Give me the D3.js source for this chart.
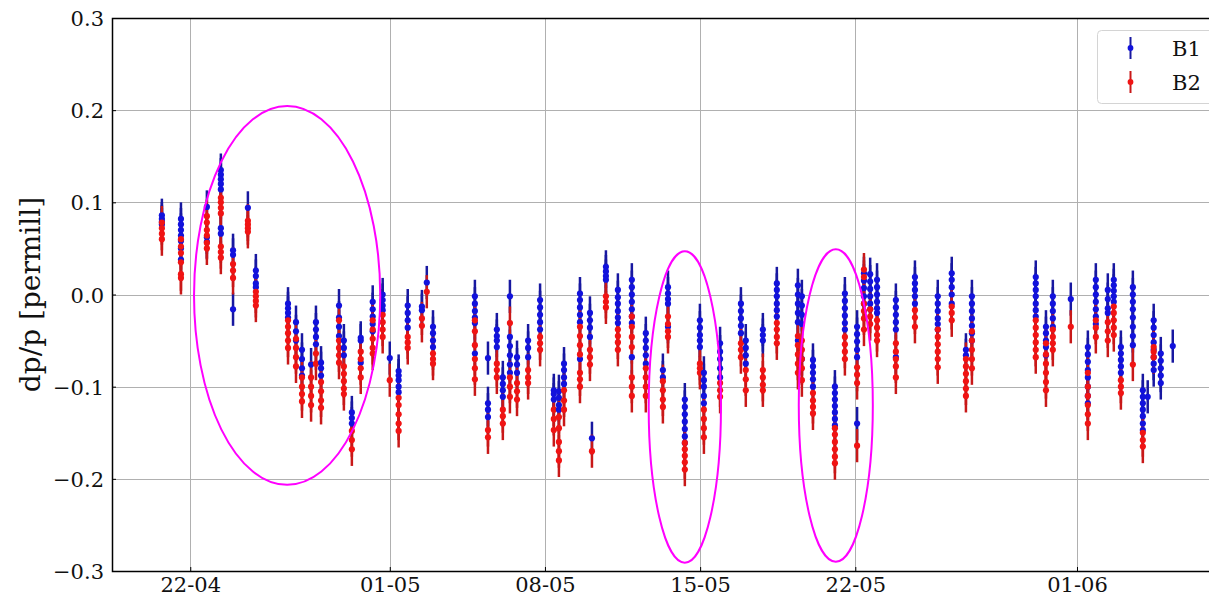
<!DOCTYPE html>
<html>
<head>
<meta charset="utf-8">
<script src="https://cdn.jsdelivr.net/npm/d3@7"></script>
<style>
  body { margin: 0; background: #fff; }
  svg text { font-family: "DejaVu Serif", serif; fill: #111; }
</style>
</head>
<body>
<div id="chart"></div>
<script>
const width = 1209;
const height = 596;

// fills: days after 22-04 (2018)
const fillDays = [
  -1.28, -0.42, 0.75, 1.38, 1.93, 2.60, 2.96, 4.41, 4.77, 5.04,
  5.45, 5.67, 5.90, 6.71, 6.93, 7.29, 7.69, 8.23, 8.68, 9.00,
  9.40, 9.81, 10.45, 10.67, 10.95, 12.84, 13.43, 13.83, 14.10, 14.42,
  14.74, 15.24, 15.78, 16.40, 16.63, 16.86, 17.58, 18.03, 18.12, 18.75,
  19.29, 19.92, 20.55, 21.32, 21.55, 22.31, 22.99, 23.17, 23.90, 24.84,
  25.06, 25.83, 26.46, 27.41, 27.59, 28.09, 29.08, 29.53, 30.08, 30.39,
  30.67, 30.98, 31.83, 32.69, 33.72, 34.35, 34.99, 35.26, 38.14, 38.60,
  38.91, 39.72, 40.49, 40.85, 41.39, 41.66, 41.98, 42.52, 42.97, 43.19,
  43.46, 43.78, 44.32
];

// B1 dp/p [permill] per fill
const b1Values = [
  [0.086, 0.082, 0.079, 0.076],
  [0.082, 0.076, 0.07, 0.064, 0.058, 0.05, 0.038],
  [0.095, 0.062, 0.057],
  [0.135, 0.13, 0.125, 0.12, 0.114, 0.072, 0.066],
  [0.048, 0.043, -0.016],
  [0.094],
  [0.026, 0.02, 0.012, 0.008],
  [-0.01, -0.015, -0.02, -0.025],
  [-0.03, -0.04, -0.05],
  [-0.06, -0.07, -0.08, -0.088],
  [-0.076],
  [-0.03, -0.038, -0.046, -0.054],
  [-0.074, -0.08, -0.088],
  [-0.012, -0.025, -0.035, -0.045],
  [-0.05, -0.058, -0.066],
  [-0.128, -0.134, -0.14],
  [-0.047, -0.05, -0.074],
  [-0.008, -0.016, -0.024, -0.032, -0.04],
  [0.0, -0.006, -0.012, -0.017],
  [-0.069],
  [-0.083, -0.088, -0.093, -0.1, -0.106],
  [-0.012, -0.02, -0.028, -0.036],
  [-0.013, -0.017],
  [0.013],
  [-0.035, -0.042, -0.05, -0.057],
  [-0.002, -0.01, -0.018, -0.025, -0.031, -0.064],
  [-0.069, -0.118, -0.125, -0.133],
  [-0.038, -0.045, -0.05, -0.057],
  [-0.09, -0.097, -0.104, -0.111],
  [-0.002, -0.046, -0.056, -0.066, -0.076, -0.085],
  [-0.068, -0.076, -0.085],
  [-0.05, -0.058, -0.068],
  [-0.006, -0.014, -0.022, -0.03, -0.038],
  [-0.104, -0.108, -0.114],
  [-0.105, -0.112, -0.12, -0.125],
  [-0.075, -0.082, -0.09, -0.097],
  [0.001, -0.006, -0.014, -0.022, -0.03, -0.07],
  [-0.02, -0.028, -0.036, -0.046],
  [-0.156],
  [0.03, 0.025, 0.02, 0.016],
  [0.005, -0.003, -0.01, -0.018, -0.025, -0.031],
  [0.016, 0.008, 0.0, -0.008, -0.016, -0.024, -0.031, -0.068],
  [-0.042, -0.05, -0.058, -0.066, -0.075],
  [-0.082, -0.09],
  [0.008, 0.001, -0.005, -0.01, -0.035],
  [-0.114, -0.122, -0.13, -0.138, -0.146, -0.154, -0.161],
  [-0.028, -0.036, -0.044, -0.05, -0.057],
  [-0.085, -0.093, -0.1, -0.11, -0.118],
  [-0.053, -0.062, -0.07, -0.08, -0.09],
  [-0.01, -0.018, -0.026, -0.034, -0.042],
  [-0.05, -0.058, -0.066, -0.075],
  [-0.038, -0.044, -0.05],
  [0.012, 0.005, -0.002, -0.01, -0.017, -0.024],
  [0.01, 0.0, -0.01, -0.02, -0.03, -0.05],
  [-0.002, -0.012, -0.022, -0.032, -0.07],
  [-0.071, -0.078, -0.085, -0.092, -0.1],
  [-0.1, -0.107, -0.114, -0.121, -0.128, -0.135, -0.142],
  [0.001, -0.007, -0.015, -0.023, -0.031, -0.038],
  [-0.035, -0.043, -0.051, -0.06, -0.068, -0.14],
  [0.023, 0.015, 0.007, -0.002, -0.01],
  [0.022, 0.014, 0.006, -0.002, -0.01, -0.016],
  [0.016, 0.008, 0.0, -0.008, -0.015, -0.02],
  [-0.006, -0.014, -0.022, -0.03, -0.038, -0.068],
  [0.019, 0.012, 0.005, -0.002, -0.01],
  [-0.002, -0.01, -0.018, -0.026, -0.032, -0.038],
  [0.023, 0.016, 0.008, 0.0, -0.01],
  [-0.06, -0.066],
  [-0.002, -0.01, -0.018, -0.026, -0.034, -0.042, -0.05],
  [0.019, 0.012, 0.005, -0.002, -0.01, -0.017, -0.024],
  [-0.035, -0.042, -0.05, -0.057, -0.066],
  [-0.002, -0.01, -0.018, -0.026, -0.035],
  [-0.005],
  [-0.057, -0.065, -0.073, -0.082, -0.09, -0.1, -0.11, -0.118],
  [0.016, 0.008, 0.0, -0.008, -0.016, -0.024, -0.032],
  [0.005, -0.005, -0.015, -0.02],
  [0.016, 0.01, 0.004, -0.002, -0.008],
  [-0.057, -0.064, -0.071, -0.078, -0.085],
  [0.008, 0.0, -0.008, -0.016, -0.025, -0.035, -0.045, -0.055],
  [-0.104, -0.111, -0.118, -0.125, -0.132, -0.14, -0.147],
  [-0.111],
  [-0.028, -0.036, -0.044, -0.052, -0.06, -0.068, -0.075, -0.082],
  [-0.064, -0.072, -0.08, -0.088, -0.096],
  [-0.056]
];

// B2 dp/p [permill] per fill
const b2Values = [
  [0.078, 0.072, 0.066, 0.06],
  [0.06, 0.052, 0.045, 0.035, 0.022, 0.018],
  [0.085, 0.078, 0.07, 0.064, 0.056, 0.05],
  [0.105, 0.1, 0.094, 0.088, 0.052, 0.046, 0.04],
  [0.033, 0.026, 0.018],
  [0.08, 0.076, 0.072, 0.068],
  [0.003, -0.002, -0.007, -0.012],
  [-0.028, -0.035, -0.042, -0.05, -0.058],
  [-0.048, -0.058, -0.068, -0.078],
  [-0.09, -0.1, -0.108, -0.116],
  [-0.09, -0.1, -0.11, -0.12],
  [-0.064, -0.075],
  [-0.095, -0.105, -0.115, -0.123],
  [-0.028, -0.05, -0.058, -0.066, -0.074],
  [-0.078, -0.086, -0.094, -0.102, -0.108],
  [-0.148, -0.158, -0.168],
  [-0.062, -0.07, -0.08, -0.09],
  [-0.028, -0.038, -0.048, -0.058, -0.064],
  [-0.022, -0.03, -0.038, -0.046],
  [-0.093],
  [-0.112, -0.12, -0.13, -0.14, -0.148],
  [-0.046, -0.052, -0.058],
  [-0.026, -0.034],
  [0.003],
  [-0.064, -0.07, -0.075],
  [-0.028, -0.04, -0.055, -0.07, -0.08, -0.092],
  [-0.147, -0.155],
  [-0.075, -0.082, -0.09],
  [-0.125, -0.132, -0.14],
  [-0.031, -0.09, -0.1, -0.111],
  [-0.096, -0.105, -0.114],
  [-0.082, -0.09, -0.096],
  [-0.046, -0.053, -0.06],
  [-0.125, -0.135, -0.147],
  [-0.133, -0.145, -0.16, -0.17, -0.18],
  [-0.104, -0.115, -0.125],
  [-0.035, -0.045, -0.055, -0.065, -0.085, -0.092, -0.1],
  [-0.06, -0.068, -0.076],
  [-0.17],
  [-0.002, -0.008, -0.014],
  [-0.038, -0.045, -0.052, -0.06],
  [-0.024, -0.035, -0.046, -0.057, -0.09, -0.1, -0.11],
  [-0.08, -0.09, -0.1, -0.11],
  [-0.094, -0.104, -0.114, -0.122],
  [-0.024, -0.032, -0.04, -0.046],
  [-0.161, -0.168, -0.175, -0.182, -0.19],
  [-0.075, -0.08, -0.085],
  [-0.125, -0.135, -0.145, -0.155],
  [-0.096, -0.104, -0.111],
  [-0.053, -0.06, -0.068],
  [-0.082, -0.092, -0.104],
  [-0.082, -0.09, -0.098, -0.104],
  [-0.031, -0.038, -0.046, -0.053],
  [-0.045, -0.055, -0.065, -0.075, -0.085],
  [-0.05, -0.06, -0.07, -0.08, -0.093],
  [-0.107, -0.115, -0.122, -0.129],
  [-0.145, -0.152, -0.16, -0.168, -0.176, -0.183],
  [-0.046, -0.054, -0.062, -0.07],
  [-0.079, -0.087, -0.096, -0.164],
  [0.027, 0.019, -0.01, -0.018, -0.026, -0.038],
  [-0.016, -0.024, -0.032],
  [-0.028, -0.036, -0.044, -0.05],
  [-0.053, -0.062, -0.07, -0.078, -0.09],
  [-0.017, -0.025, -0.035],
  [-0.038, -0.046, -0.054, -0.062, -0.07, -0.079],
  [-0.013, -0.02, -0.028],
  [-0.07, -0.078, -0.086, -0.094, -0.102, -0.11],
  [-0.04, -0.05, -0.06, -0.07, -0.08],
  [-0.028, -0.036, -0.044, -0.052, -0.06, -0.068],
  [-0.053, -0.065, -0.075, -0.085, -0.095, -0.104],
  [-0.038, -0.046, -0.053, -0.06],
  [-0.035],
  [-0.085, -0.1, -0.11, -0.12, -0.13, -0.14],
  [-0.028, -0.036, -0.046],
  [-0.03, -0.04, -0.05],
  [-0.013, -0.02, -0.028, -0.036, -0.044],
  [-0.093, -0.1, -0.107],
  [-0.076],
  [-0.15, -0.158, -0.165],
  [],
  [-0.057, -0.062, -0.068],
  [],
  []
];

const errB1 = 0.018;
const errB2 = 0.018;

const seriesNames = ["B1", "B2"];
const xTickLabels = ["22-04", "01-05", "08-05", "15-05", "22-05", "01-06"];
const yTicks = [-0.3, -0.2, -0.1, 0.0, 0.1, 0.2, 0.3];

// highlighted periods: centre day, centre value, half-width (days), half-height
const ellipseCentreDays = [4.37, 22.31, 29.12];
const ellipseCentreValues = [-0.001, -0.122, -0.1205];
const ellipseHalfDays = [4.2, 1.63, 1.67];
const ellipseHalfValues = [0.2055, 0.169, 0.1695];

const t0 = Date.UTC(2018, 3, 22);
const dayMs = 864e5;
const toDate = d => new Date(t0 + d * dayMs);
const parseTick = d3.utcParse("%d-%m-%Y");

const plot = { left: 112, top: 18, right: 1212, bottom: 571 };

const svg = d3.select("#chart")
  .append("svg")
  .attr("width", width)
  .attr("height", height);

const x = d3.scaleUtc()
  .domain([toDate(-3.53), toDate(46.09)])
  .range([plot.left, plot.right]);

const y = d3.scaleLinear()
  .domain([-0.3, 0.3])
  .range([plot.bottom, plot.top]);

const xTicks = xTickLabels.map(s => parseTick(s + "-2018"));

// 网格
const grid = svg.append("g").attr("stroke", "#b0b0b0").attr("stroke-width", 1);
grid.selectAll("line.gx").data(xTicks).enter().append("line")
  .attr("x1", d => Math.round(x(d)) + 0.5).attr("x2", d => Math.round(x(d)) + 0.5)
  .attr("y1", plot.top).attr("y2", plot.bottom);
grid.selectAll("line.gy").data(yTicks).enter().append("line")
  .attr("y1", d => Math.round(y(d)) + 0.5).attr("y2", d => Math.round(y(d)) + 0.5)
  .attr("x1", plot.left).attr("x2", plot.right);

svg.append("clipPath").attr("id", "clip")
  .append("rect")
  .attr("x", plot.left).attr("y", plot.top)
  .attr("width", plot.right - plot.left).attr("height", plot.bottom - plot.top);

const barLayer = svg.append("g").attr("clip-path", "url(#clip)");
const dotLayer = svg.append("g").attr("clip-path", "url(#clip)");

const colors = {
  B1: { bar: "#1818a0", dot: "#1212dc" },
  B2: { bar: "#c81818", dot: "#f01414" }
};

function drawSeries(xv, values, err, c) {
  values.forEach(v => {
    barLayer.append("line")
      .attr("x1", xv).attr("x2", xv)
      .attr("y1", y(v - err)).attr("y2", y(v + err))
      .attr("stroke", c.bar).attr("stroke-width", 2.5);
    dotLayer.append("circle")
      .attr("cx", xv).attr("cy", y(v)).attr("r", 3.1)
      .attr("fill", c.dot);
  });
}

fillDays.forEach((d, i) => {
  const xv = x(toDate(d));
  drawSeries(xv, b1Values[i], errB1, colors.B1);
  drawSeries(xv, b2Values[i], errB2, colors.B2);
});

// 椭圆标注
ellipseCentreDays.forEach((d, i) => {
  const cx = x(toDate(d));
  const cy = y(ellipseCentreValues[i]);
  svg.append("ellipse")
    .attr("cx", cx).attr("cy", cy)
    .attr("rx", x(toDate(d + ellipseHalfDays[i])) - cx)
    .attr("ry", cy - y(ellipseCentreValues[i] + ellipseHalfValues[i]))
    .attr("fill", "none")
    .attr("stroke", "#ff00ff")
    .attr("stroke-width", 2);
});

// 坐标轴
const fmtY = d => d3.format(".1f")(d).replace("-", "\u2212");

const yAxis = svg.append("g")
  .attr("transform", `translate(${plot.left},0)`)
  .call(d3.axisLeft(y).tickValues(yTicks).tickFormat(fmtY).tickSizeInner(-4).tickSizeOuter(0).tickPadding(8));
yAxis.select(".domain").remove();
yAxis.selectAll("text").style("font-size", "21px").attr("dy", "0.36em");
yAxis.selectAll("line").attr("stroke", "#000");

const xAxis = svg.append("g")
  .attr("transform", `translate(0,${plot.bottom})`)
  .call(d3.axisBottom(x).tickValues(xTicks).tickFormat(d3.utcFormat("%d-%m")).tickSizeInner(-4).tickSizeOuter(0).tickPadding(6));
xAxis.select(".domain").remove();
xAxis.selectAll("text").style("font-size", "21px").attr("dy", "0.71em");
xAxis.selectAll("line").attr("stroke", "#000");

// 边框
svg.append("path")
  .attr("d", `M${plot.right},${plot.top + 0.5}H${plot.left + 0.5}V${plot.bottom + 0.5}H${plot.right}`)
  .attr("fill", "none")
  .attr("stroke", "#000")
  .attr("stroke-width", 1.5);

svg.append("text")
  .attr("transform", `translate(40,${(plot.top + plot.bottom) / 2}) rotate(-90)`)
  .attr("text-anchor", "middle")
  .style("font-size", "28px")
  .text("dp/p [permill]");

// 图例
const legend = svg.append("g");
legend.append("rect")
  .attr("x", 1097.5).attr("y", 30.5)
  .attr("width", 140).attr("height", 73)
  .attr("rx", 4)
  .attr("fill", "#fff").attr("fill-opacity", 0.8)
  .attr("stroke", "#d4d4d4");

seriesNames.forEach((name, i) => {
  const ly = 48 + i * 34;
  const c = colors[name];
  legend.append("line")
    .attr("x1", 1130.5).attr("x2", 1130.5)
    .attr("y1", ly - 11).attr("y2", ly + 11)
    .attr("stroke", c.bar).attr("stroke-width", 2);
  legend.append("circle")
    .attr("cx", 1130.5).attr("cy", ly).attr("r", 2.9)
    .attr("fill", c.dot);
  legend.append("text")
    .attr("x", 1172).attr("y", ly + 8)
    .style("font-size", "21px")
    .text(name);
});
</script>
</body>
</html>
